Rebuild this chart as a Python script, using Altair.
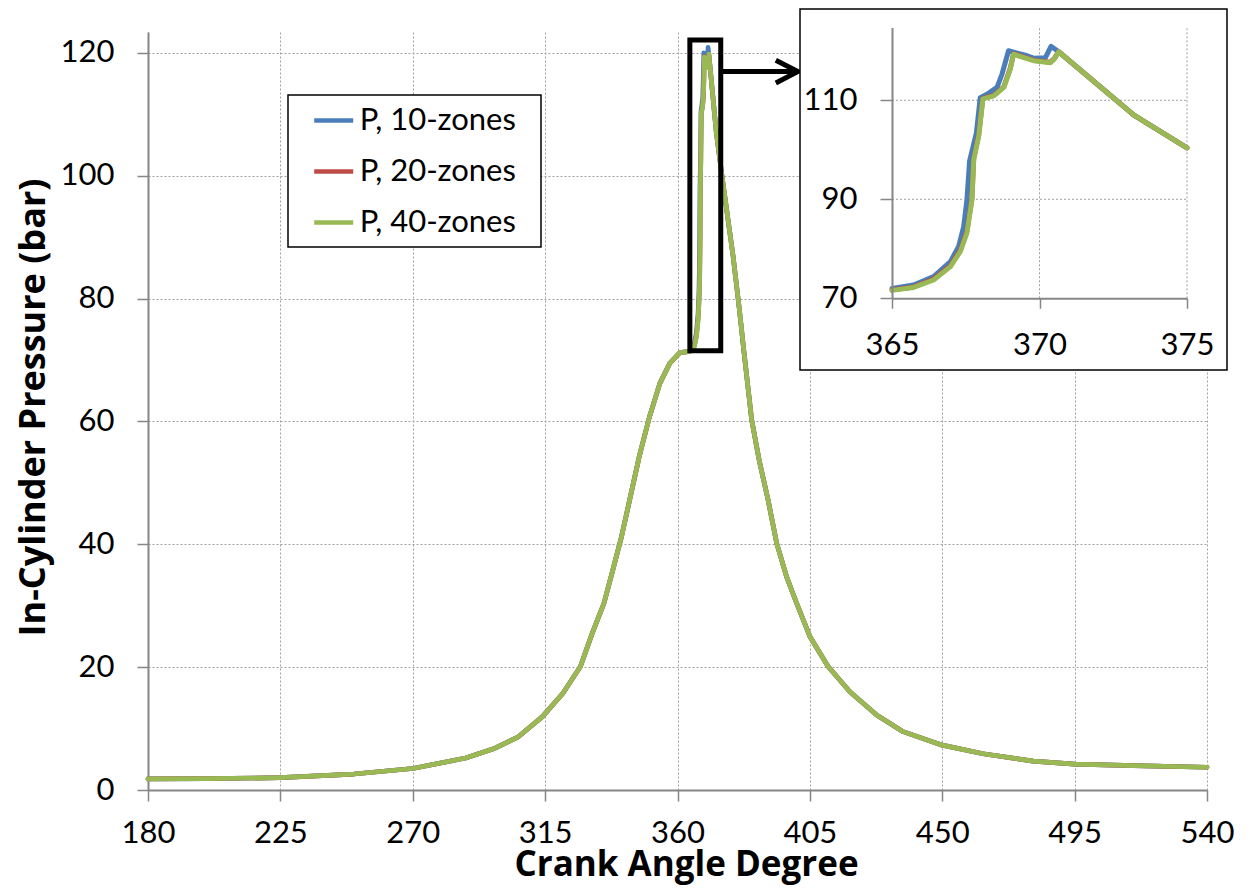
import altair as alt
import pandas as pd

# ---------------- data ----------------
series_names = ["P, 10-zones", "P, 20-zones", "P, 40-zones"]
series_colors = ["#4A7EBB", "#BE4B48", "#98B954"]

# compression part, common to all three runs
pre_angle = [180, 200, 225, 250, 270, 288, 298, 306, 314, 321, 327, 331, 335,
             338, 341, 344, 347, 350.5, 354, 357.4, 360.8, 364.2]
pre_p = [1.8, 1.85, 2.0, 2.6, 3.5, 5.2, 6.8, 8.7, 11.9, 15.7, 20.1, 25.5, 30.4,
         35.8, 41.3, 47.8, 54.3, 60.8, 66.2, 69.5, 71.2, 71.4]

# combustion part (365-370.65 deg), differs per run
blue_angle = [365, 365.73, 366.41, 366.98, 367.26, 367.43, 367.54, 367.63, 367.86,
              367.99, 368.22, 368.56, 368.73, 368.95, 369.58, 369.80, 370.2, 370.39, 370.65]
blue_p = [72.0, 72.7, 74.4, 77.4, 80.5, 84.5, 89.9, 97.7, 103.4,
          110.5, 111.2, 112.6, 115.3, 120.0, 119.0, 118.5, 118.6, 120.9, 119.8]

red_angle = [365, 365.73, 366.41, 366.98, 367.32, 367.54, 367.71, 367.77, 367.94,
             368.08, 368.45, 368.79, 369.01, 369.12, 369.80, 370.37, 370.5, 370.65]
red_p = [71.7, 72.3, 73.9, 76.6, 79.8, 83.6, 90.3, 98.3, 103.1,
         110.4, 111.0, 112.7, 116.5, 119.4, 118.1, 117.7, 118.4, 119.8]

green_angle = [365, 365.73, 366.41, 366.98, 367.32, 367.54, 367.71, 367.77, 367.94,
               368.08, 368.45, 368.79, 369.01, 369.12, 369.80, 370.37, 370.5, 370.65]
green_p = [71.6, 72.2, 73.7, 76.4, 79.5, 83.2, 89.9, 98.0, 102.8,
           110.3, 110.9, 112.6, 116.3, 119.3, 118.0, 117.6, 118.3, 119.8]

# expansion part, common to all three runs
post_angle = [373.2, 375, 376.7, 378.9, 380.9, 382.6, 385.2, 387.8, 390.8, 393.7,
              397.1, 400.5, 405, 411.2, 418.6, 427.7, 436.7, 450, 463.9, 480.9,
              495, 515, 540]
post_p = [107.0, 100.4, 94.5, 86.9, 78.8, 71.3, 60.3, 53.6, 47.2, 40.2,
          34.7, 30.4, 25.0, 20.1, 16.0, 12.2, 9.5, 7.3, 5.9, 4.7,
          4.2, 3.96, 3.7]

x_ticks = [180, 225, 270, 315, 360, 405, 450, 495, 540]
y_ticks = [0, 20, 40, 60, 80, 100, 120]
main_x_domain = [180, 540]
main_y_domain = [0, 123.4]

inset_x_ticks = [365, 370, 375]
inset_y_ticks = [70, 90, 110]
inset_x_domain = [365, 375]
inset_y_domain = [70, 124.7]
inset_grid_x = [370, 375]
inset_grid_y = [90, 110]

zoom_box_angle = [364.2, 374.7]
zoom_box_p = [71.5, 122.1]
arrow_angle = [374.7, 400.2]
arrow_tip_angle = 400.9
arrow_p = 116.95

rows = []
for name, a_in, p_in in zip(series_names, [blue_angle, red_angle, green_angle],
                            [blue_p, red_p, green_p]):
    for a, p in zip(pre_angle + a_in + post_angle, pre_p + p_in + post_p):
        rows.append({"series": name, "angle": a, "p": p})
df = pd.DataFrame(rows)

# ---------------- styling ----------------
FONT = "Lato"
TFONT = "Open Sans"
GRAY = "#868686"
GRID = "#a0a0a0"
PLOT_W, PLOT_H = 1059, 758

color_scale = alt.Scale(domain=series_names, range=series_colors)
legend = alt.Legend(title=None, orient="none", legendX=163.7, legendY=66.5,
                    symbolType="stroke", symbolSize=1521, symbolStrokeWidth=4.5,
                    labelFont=FONT, labelFontSize=31, labelColor="black",
                    rowPadding=14, labelOffset=4, padding=0, zindex=1)

main_x_scale = alt.Scale(domain=main_x_domain, nice=False, zero=False)
main_y_scale = alt.Scale(domain=main_y_domain, nice=False)

main_x_axis = alt.Axis(values=x_ticks, title="Crank Angle Degree", titleFont=TFONT,
                       titleFontSize=35, titleFontWeight="bold", titleColor="black",
                       titleX=538, titleY=57, titleBaseline="top",
                       labelFont=FONT, labelFontSize=31, labelColor="black",
                       labelPadding=17, tickSize=11, tickColor=GRAY, tickWidth=1.5,
                       domainColor=GRAY, domainWidth=2, grid=True, gridColor=GRID,
                       gridDash=[2, 2], gridWidth=1, labelFlush=False,
                       labelOverlap=False, format="d")
main_y_axis = alt.Axis(values=y_ticks, title="In-Cylinder Pressure (bar)", titleFont=TFONT,
                       titleFontSize=36, titleFontWeight="bold", titleColor="black",
                       titleX=-96, titleY=375, titleAngle=270, titleBaseline="bottom",
                       titleAlign="center",
                       labelFont=FONT, labelFontSize=31, labelColor="black",
                       labelPadding=23, tickSize=11, tickColor=GRAY, tickWidth=1.5,
                       domainColor=GRAY, domainWidth=2, grid=True, gridColor=GRID,
                       gridDash=[2, 2], gridWidth=1, labelFlush=False,
                       labelOverlap=False, format="d")

inset_x_scale = alt.Scale(domain=inset_x_domain, range=[744, 1039], nice=False, zero=False)
inset_y_scale = alt.Scale(domain=inset_y_domain, range=[266.3, -4.5], nice=False, zero=False)
inset_x_axis = alt.Axis(values=inset_x_ticks, orient="bottom", offset=-491.7, title=None,
                        grid=False, labelFont=FONT, labelFontSize=31, labelColor="black",
                        labelPadding=22, tickSize=10, tickColor=GRAY, tickWidth=1.5,
                        domainColor=GRAY, domainWidth=2, zindex=1, labelFlush=False,
                        labelOverlap=False, format="d")
inset_y_axis = alt.Axis(values=inset_y_ticks, orient="left", offset=-744, title=None,
                        grid=False, labelFont=FONT, labelFontSize=31, labelColor="black",
                        labelPadding=23, tickSize=12, tickColor=GRAY, tickWidth=1.5,
                        domainColor=GRAY, domainWidth=2, zindex=1, labelFlush=False,
                        labelOverlap=False, format="d")

MX = alt.X("angle:Q", scale=main_x_scale, axis=main_x_axis)
MY = alt.Y("p:Q", scale=main_y_scale, axis=main_y_axis)
IX = alt.X("angle:Q", scale=inset_x_scale, axis=inset_x_axis)
IY = alt.Y("p:Q", scale=inset_y_scale, axis=inset_y_axis)
COL = alt.Color("series:N", scale=color_scale, legend=legend)

# ---------------- main panel ----------------
main_layers = []
for name in series_names:
    main_layers.append(
        alt.Chart(df).transform_filter(alt.datum.series == name)
        .mark_line(strokeWidth=4.7, strokeJoin="round", strokeCap="round")
        .encode(x=MX, y=MY, color=COL)
    )

box_df = pd.DataFrame({"angle": [zoom_box_angle[0]], "angle2": [zoom_box_angle[1]],
                       "p": [zoom_box_p[0]], "p2": [zoom_box_p[1]]})
box = alt.Chart(box_df).mark_rect(fill=None, stroke="black", strokeWidth=5).encode(
    x=MX, x2="angle2:Q", y=MY, y2="p2:Q")

arrow_df = pd.DataFrame({"angle": [arrow_angle[0]], "angle2": [arrow_angle[1]], "p": [arrow_p]})
arrow_line = alt.Chart(arrow_df).mark_rule(color="black", strokeWidth=5).encode(
    x=MX, x2="angle2:Q", y=MY)
tip_df = pd.DataFrame({"angle": [arrow_tip_angle], "p": [arrow_p]})
arrow_head = alt.Chart(tip_df).mark_point(
    shape="M -1 -0.52 L 0 0 L -1 0.52", size=1936, filled=False,
    stroke="black", strokeWidth=5, strokeJoin="miter", opacity=1).encode(x=MX, y=MY)

legend_frame = alt.Chart(pd.DataFrame({"k": [0]})).mark_rect(
    fill="white", stroke="black", strokeWidth=1.5).encode(
    x=alt.value(140), x2=alt.value(393), y=alt.value(63), y2=alt.value(215))

main_group = alt.layer(*main_layers, box, arrow_line, arrow_head, legend_frame)

# ---------------- inset panel ----------------
inset_frame = alt.Chart(pd.DataFrame({"k": [0]})).mark_rect(
    fill="white", stroke="black", strokeWidth=1.5).encode(
    x=alt.value(652), x2=alt.value(1079), y=alt.value(-23), y2=alt.value(338))

gv_df = pd.DataFrame({"angle": inset_grid_x, "p": [inset_y_domain[0]] * 2,
                      "p2": [inset_y_domain[1]] * 2})
grid_v = alt.Chart(gv_df).mark_rule(color=GRID, strokeDash=[2, 2], strokeWidth=1).encode(
    x=IX, y=IY, y2="p2:Q")
gh_df = pd.DataFrame({"p": inset_grid_y, "angle": [inset_x_domain[0]] * 2,
                      "angle2": [inset_x_domain[1]] * 2})
grid_h = alt.Chart(gh_df).mark_rule(color=GRID, strokeDash=[2, 2], strokeWidth=1).encode(
    x=IX, x2="angle2:Q", y=IY)

inset_layers = []
for name in series_names:
    inset_layers.append(
        alt.Chart(df).transform_filter(
            (alt.datum.series == name) & (alt.datum.angle >= inset_x_domain[0])
            & (alt.datum.angle <= inset_x_domain[1]))
        .mark_line(strokeWidth=5, strokeJoin="round", strokeCap="round")
        .encode(x=IX, y=IY, color=COL)
    )

inset_group = alt.layer(inset_frame, grid_v, grid_h, *inset_layers)

chart = (
    alt.layer(main_group, inset_group)
    .resolve_scale(x="independent", y="independent")
    .properties(width=PLOT_W, height=PLOT_H,
                autosize=alt.AutoSizeParams(type="none"),
                padding={"left": 140, "top": 24, "right": 32, "bottom": 96},
                background="white")
    .configure_view(stroke=None)
)

chart.save("out.html", embed_options={"renderer": "svg", "actions": False})
